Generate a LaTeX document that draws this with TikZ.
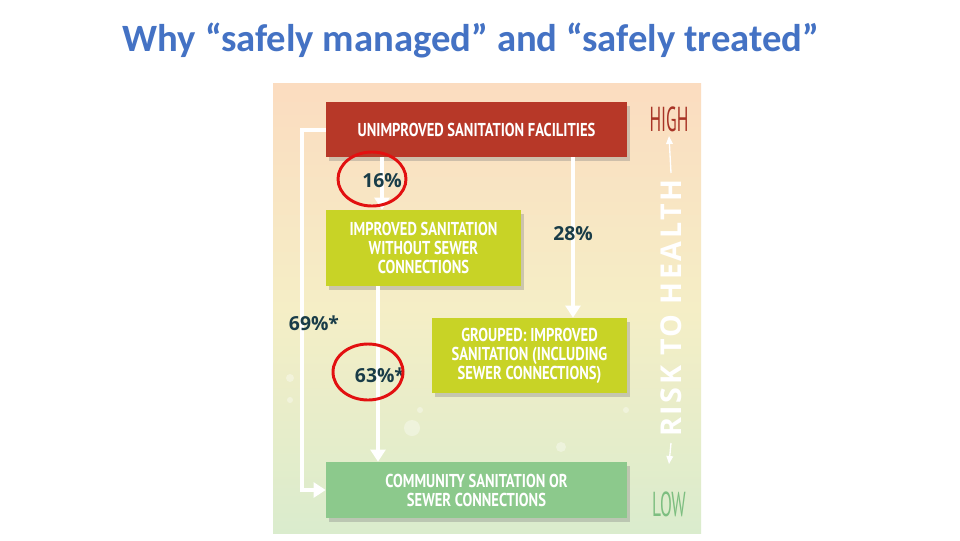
\documentclass[tikz,border=0pt]{standalone}
\usepackage{fontspec}
\setmainfont{Carlito}
\newfontfamily\condb[FakeStretch=0.78]{PT Sans Bold}
\newfontfamily\condr[FakeStretch=0.5]{PT Sans}
\newfontfamily\pct{Open Sans Bold}
\newfontfamily\riskf[LetterSpace=9]{Open Sans Bold}
\usetikzlibrary{arrows.meta,shadows,calc}
\definecolor{titleblue}{RGB}{68,114,196}
\definecolor{boxred}{RGB}{183,56,40}
\definecolor{boxyel}{RGB}{200,211,38}
\definecolor{boxgrn}{RGB}{140,201,140}
\definecolor{pcttxt}{RGB}{25,60,72}
\definecolor{bgtop}{RGB}{251,220,192}
\definecolor{bgmid}{RGB}{245,238,198}
\definecolor{bgbot}{RGB}{218,236,205}
\definecolor{hired}{RGB}{168,52,38}
\definecolor{logrn}{RGB}{125,190,128}
\definecolor{ellred}{RGB}{226,16,16}
\tikzset{
  sbox/.style={draw=none, minimum width=#1*0.75pt, inner sep=0pt, align=center,
    text=white, font=\condb\fontsize{14}{14.3}\selectfont,
    drop shadow={opacity=0.35, shadow xshift=2.5pt, shadow yshift=-3pt}},
  warrow/.style={draw=white, line width=3pt, -{Triangle[width=11pt,length=9pt]}},
  pctlab/.style={text=pcttxt, font=\pct\fontsize{14.5}{16}\selectfont, inner sep=0pt},
  ring/.style={draw=ellred, line width=2.2pt},
  bokeh/.style={fill=white, opacity=0.35},
  riskarrow/.style={draw=white, line width=1pt, -{Triangle[width=5pt,length=6pt]}}
}
\begin{document}
\begin{tikzpicture}[x=0.75pt,y=-0.75pt]
\useasboundingbox (0,0) rectangle (960,540);
\fill[white] (0,0) rectangle (960,540);
% title
\node[text=titleblue, font=\bfseries\fontsize{29}{31}\selectfont, inner sep=0pt] (title) at (471,40) {Why “safely managed” and “safely treated”};
% background panel
\shade[top color=bgtop, bottom color=bgbot, middle color=bgmid] (273,83) rectangle (701,533);
% bokeh
\fill[bokeh] (412,428) circle (8);
\fill[bokeh] (290,378) circle (4);
\fill[bokeh] (561,447) circle (5);
\fill[bokeh] (420,410) circle (3);
\fill[bokeh] (290,400) circle (3);
\fill[bokeh] (626,410) circle (3);
% boxes
\node[sbox=301, minimum height=55*0.75pt, fill=boxred] (unimp) at (476.5,129.5) {UNIMPROVED SANITATION FACILITIES};
\node[sbox=195, minimum height=76*0.75pt, fill=boxyel] (impr) at (423.5,248) {IMPROVED SANITATION\\WITHOUT SEWER\\CONNECTIONS};
\node[sbox=195, minimum height=75*0.75pt, fill=boxyel] (grouped) at (529.5,355.5) {GROUPED: IMPROVED\\SANITATION (INCLUDING\\SEWER CONNECTIONS)};
\node[sbox=301, minimum height=56*0.75pt, fill=boxgrn] (comm) at (476.5,490) {COMMUNITY SANITATION OR\\SEWER CONNECTIONS};
% arrow x positions
\coordinate (x16) at (382,0);
\coordinate (x28) at (573,0);
\coordinate (x63) at (378,0);
\coordinate (x69) at (302,0);
% arrows
\draw[warrow] (unimp.south -| x16) -- (impr.north -| x16);
\draw[warrow] (unimp.south -| x28) -- (grouped.north -| x28);
\draw[warrow] (impr.south -| x63) -- (comm.north -| x63);
\draw[warrow] (unimp.west) -- (unimp.west -| x69) |- (comm.west);
% labels
\node[pctlab] (p16) at (382,181) {16\%};
\node[pctlab] (p28) at (573,234) {28\%};
\node[pctlab] (p69) at (314,323) {69\%*};
\node[pctlab] (p63) at (380,375) {63\%*};
% red rings
\draw[ring] (372,179) ellipse (34 and 27);
\draw[ring] (368,372) ellipse (35 and 28);
% risk scale
\node[text=hired, font=\condr\fontsize{26}{27}\selectfont, inner sep=0pt] (high) at (669,119) {HIGH};
\node[text=logrn, font=\condr\fontsize{26}{27}\selectfont, inner sep=0pt] (low) at (669,504) {LOW};
\node[rotate=90, text=white, font=\riskf\fontsize{21.5}{22}\selectfont, inner sep=0pt] (risk) at (671,308) {RISK TO HEALTH};
\coordinate (rtop) at (669,136);
\coordinate (rbot) at (669,464);
\draw[riskarrow] (risk.east |- 0,173) -- (rtop);
\draw[riskarrow] (risk.west |- 0,443) -- (rbot);
\end{tikzpicture}
\end{document}
